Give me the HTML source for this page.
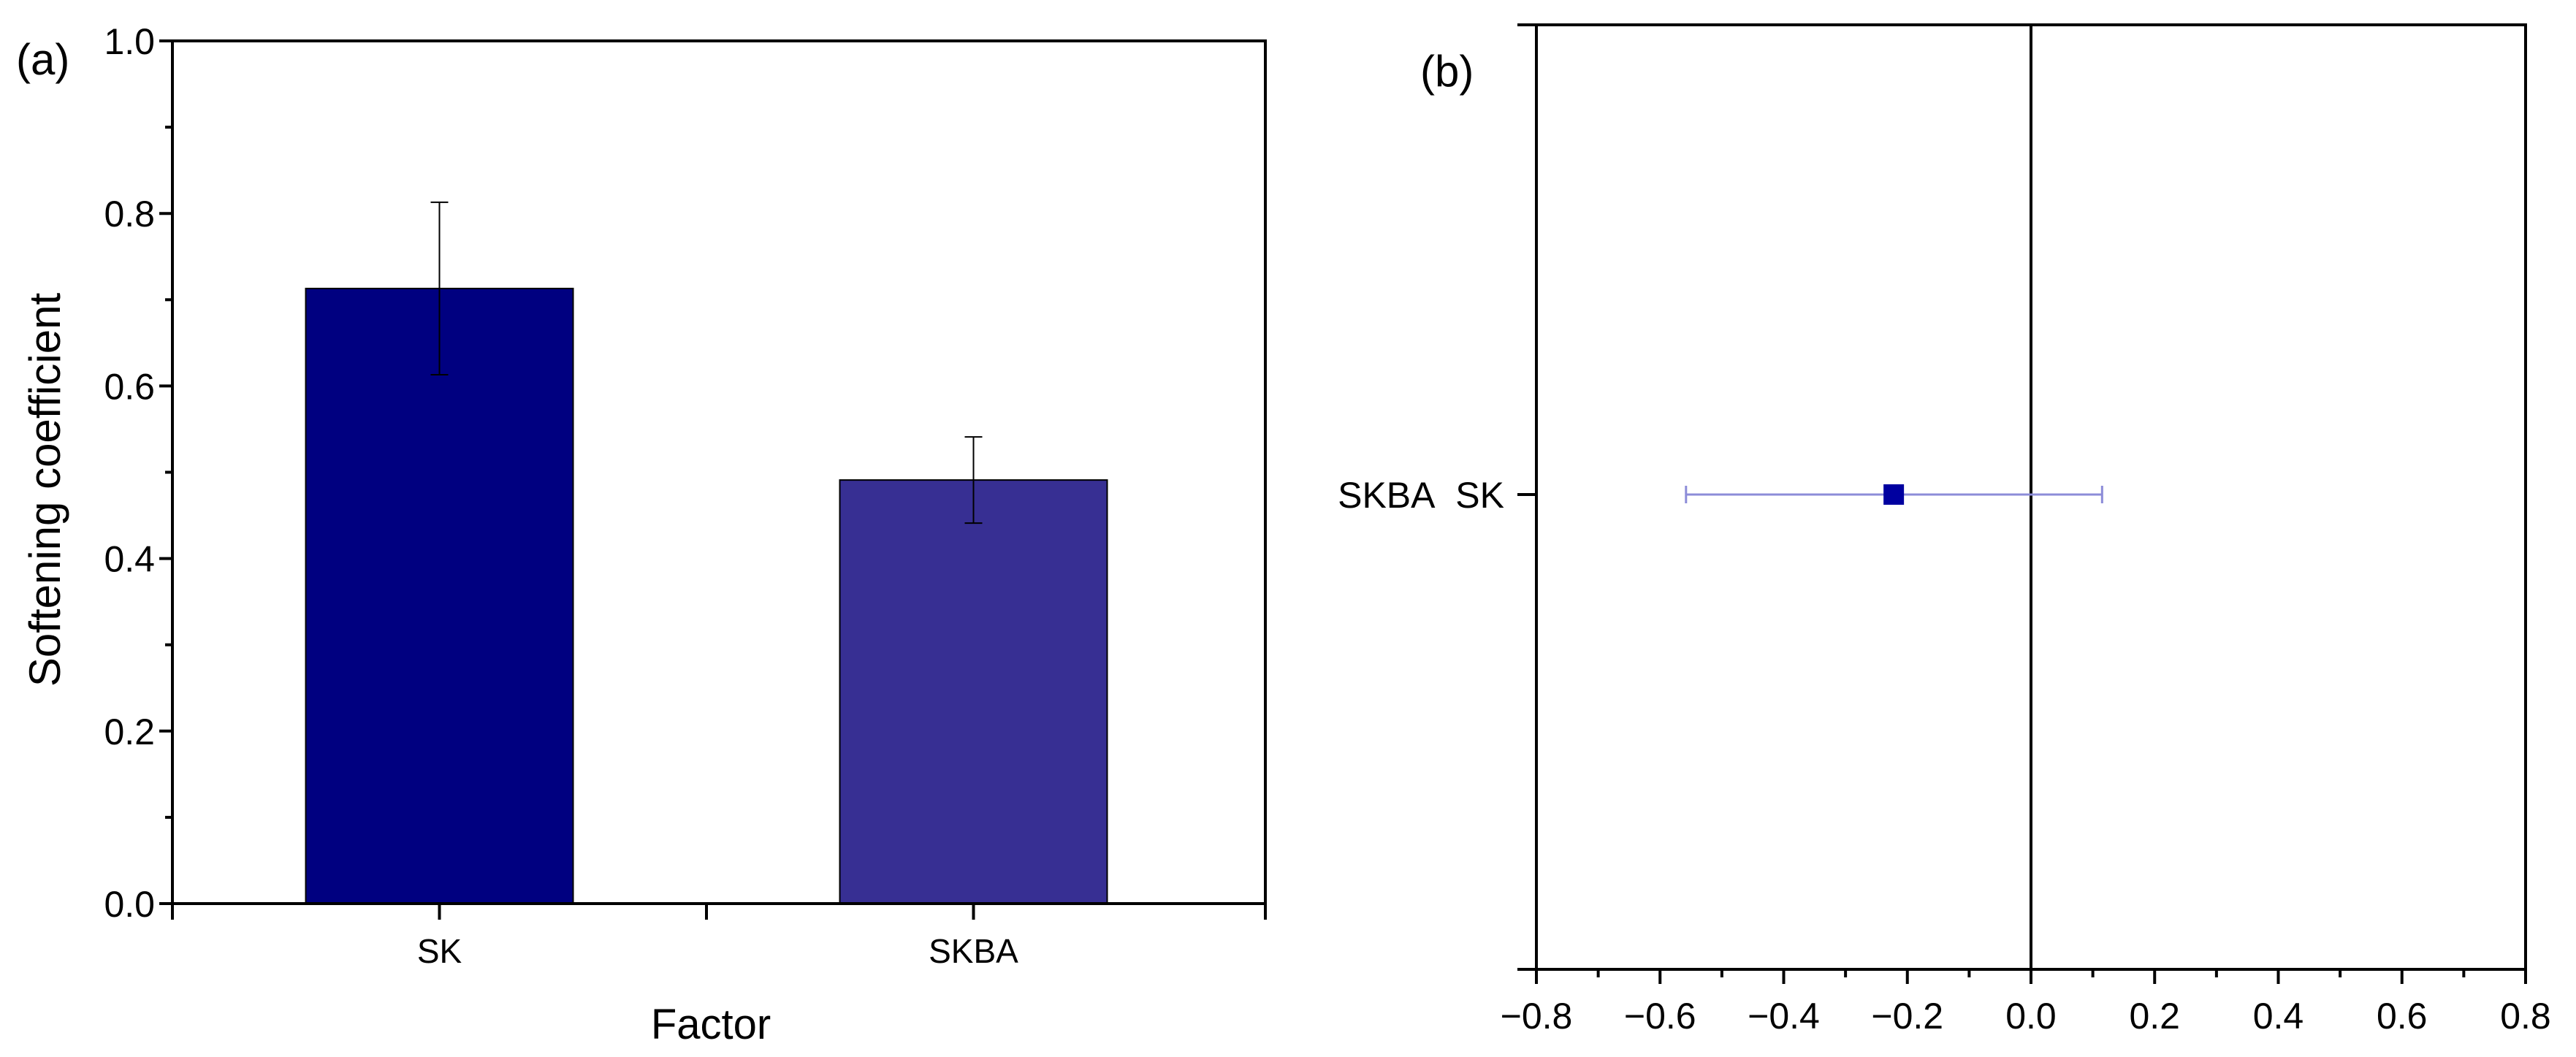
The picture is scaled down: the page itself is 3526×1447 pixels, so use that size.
<!DOCTYPE html>
<html><head><meta charset="utf-8"><style>
html,body{margin:0;padding:0;background:#fff;}
svg{display:block;font-family:"Liberation Sans",Arial,sans-serif;}
</style></head><body>
<svg id="fig" width="3526" height="1447" viewBox="0 0 3526 1447" xmlns="http://www.w3.org/2000/svg">
<g id="pa"></g>
<g id="pb"></g>
</svg>
<script>
// Panel (a) data
const categories = ["SK", "SKBA"];
const barValues = [0.713, 0.491];
const errLow = [0.613, 0.441];
const errHigh = [0.813, 0.541];
const barColors = ["#000080", "#372f93"];
const yTicks = [0.0, 0.2, 0.4, 0.6, 0.8, 1.0];
const yTickLabels = ["0.0", "0.2", "0.4", "0.6", "0.8", "1.0"];
// Panel (b) data
const compLabel = "SKBA\u00a0\u00a0SK";
const diffMean = [-0.222];
const diffLow = [-0.558];
const diffHigh = [0.115];
const xTicksB = [-0.8, -0.6, -0.4, -0.2, 0.0, 0.2, 0.4, 0.6, 0.8];
const xTickLabelsB = ["\u22120.8", "\u22120.6", "\u22120.4", "\u22120.2", "0.0", "0.2", "0.4", "0.6", "0.8"];

const NS = "http://www.w3.org/2000/svg";
function mk(parent, tag, attrs, text) {
  const e = document.createElementNS(NS, tag);
  for (const k in attrs) e.setAttribute(k, attrs[k]);
  if (text !== undefined) e.textContent = text;
  parent.appendChild(e);
  return e;
}

// ---------- Panel A ----------
const pa = document.getElementById("pa");
const A = {l: 236, r: 1732, t: 56, b: 1237};
const yA = v => A.b - (v - 0) / (1 - 0) * (A.b - A.t);
const unit = 731;
const xA = i => A.l + unit * (i + 0.5);
const barW = 366;

categories.forEach((c, i) => {
  const bar = mk(pa, "rect", {x: xA(i) - barW / 2, y: yA(barValues[i]), width: barW, height: yA(0) - yA(barValues[i]), fill: barColors[i], stroke: "#000", "stroke-width": 2});
  
  
  const eb = mk(pa, "path", {d: `M${xA(i)} ${yA(errLow[i])}V${yA(errHigh[i])}M${xA(i)-12} ${yA(errHigh[i])}H${xA(i)+12}M${xA(i)-12} ${yA(errLow[i])}H${xA(i)+12}`, stroke: "#000", "stroke-width": 2, fill: "none"});
  
  
  const tk = mk(pa, "line", {x1: xA(i), x2: xA(i), y1: A.b, y2: A.b + 22, stroke: "#000", "stroke-width": 4});
  
  
  const lb = mk(pa, "text", {x: xA(i), y: 1318, "font-size": 46, "text-anchor": "middle"}, c);
  
  
});
[A.l, A.l + unit, A.r].forEach(x => {
  const t = mk(pa, "line", {x1: x, x2: x, y1: A.b, y2: A.b + 22, stroke: "#000", "stroke-width": 4});
  
  
});
yTicks.forEach((v, i) => {
  const t = mk(pa, "line", {x1: A.l - 18, x2: A.l, y1: yA(v), y2: yA(v), stroke: "#000", "stroke-width": 4});
  
  
  const l = mk(pa, "text", {x: A.l - 24, y: yA(v) + 18, "font-size": 50, "text-anchor": "end"}, yTickLabels[i]);
  
  
  if (i < yTicks.length - 1) {
    const m = mk(pa, "line", {x1: A.l - 10, x2: A.l, y1: yA(v + 0.1), y2: yA(v + 0.1), stroke: "#000", "stroke-width": 4});
    
    
  }
});
const frA = mk(pa, "rect", {x: A.l, y: A.t, width: A.r - A.l, height: A.b - A.t, fill: "none", stroke: "#000", "stroke-width": 4});


const yt = mk(pa, "text", {x: 0, y: 0, "font-size": 60, "text-anchor": "middle", transform: `translate(82 ${(A.t + A.b) / 2 + 24}) rotate(-90)`}, "Softening coefficient");


const xt = mk(pa, "text", {x: A.l + unit + 6, y: 1422, "font-size": 58, "text-anchor": "middle"}, "Factor");


const la = mk(pa, "text", {x: 22, y: 102, "font-size": 60}, "(a)");



// ---------- Panel B ----------
const pb = document.getElementById("pb");
const B = {l: 2103, r: 3457, t: 34, b: 1327};
const xB = v => B.l + (v + 0.8) / 1.6 * (B.r - B.l);
const yMid = 677;

xTicksB.forEach((v, i) => {
  const t = mk(pb, "line", {x1: xB(v), x2: xB(v), y1: B.b, y2: B.b + 20, stroke: "#000", "stroke-width": 4});
  
  
  const l = mk(pb, "text", {x: xB(v), y: 1408, "font-size": 50, "text-anchor": "middle"}, xTickLabelsB[i]);
  
  
  if (i < xTicksB.length - 1) {
    const m = mk(pb, "line", {x1: xB(v + 0.1), x2: xB(v + 0.1), y1: B.b, y2: B.b + 11, stroke: "#000", "stroke-width": 4});
    
    
  }
});
[B.t, yMid, B.b].forEach(y => {
  const t = mk(pb, "line", {x1: B.l - 26, x2: B.l, y1: y, y2: y, stroke: "#000", "stroke-width": 4});
  
  
});
const zl = mk(pb, "line", {x1: xB(0), x2: xB(0), y1: B.t, y2: B.b, stroke: "#000", "stroke-width": 4});


const frB = mk(pb, "rect", {x: B.l, y: B.t, width: B.r - B.l, height: B.b - B.t, fill: "none", stroke: "#000", "stroke-width": 4});


diffMean.forEach((m, i) => {
  const e = mk(pb, "path", {d: `M${xB(diffLow[i])} ${yMid}H${xB(diffHigh[i])}M${xB(diffLow[i])} ${yMid-12}V${yMid+12}M${xB(diffHigh[i])} ${yMid-12}V${yMid+12}`, stroke: "#8c8cd8", "stroke-width": 3, fill: "none"});
  
  
  const p = mk(pb, "rect", {x: xB(m) - 14, y: yMid - 14, width: 28, height: 28, fill: "#0000a0"});
  
  
});
const cl = mk(pb, "text", {x: B.l - 44, y: yMid + 18, "font-size": 50, "text-anchor": "end"}, compLabel);


const lbB = mk(pb, "text", {x: 1944, y: 118, "font-size": 60}, "(b)");


</script>
</body></html>
